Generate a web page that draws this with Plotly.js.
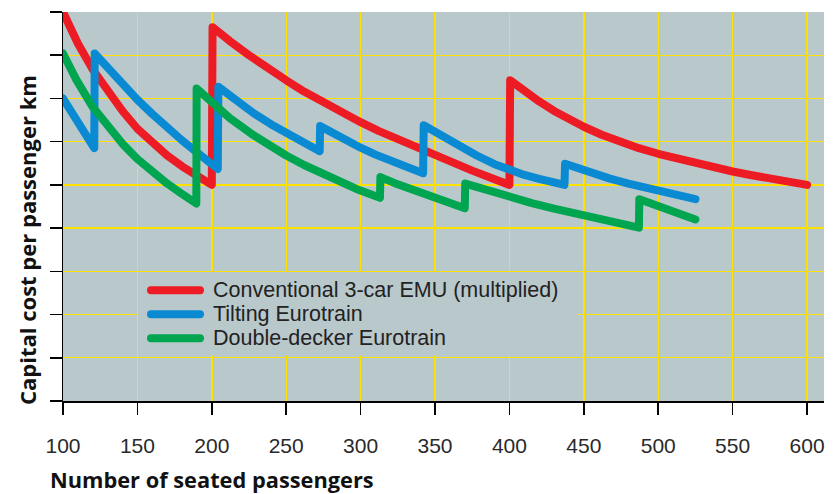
<!DOCTYPE html>
<html>
<head>
<meta charset="utf-8">
<script src="https://cdn.plot.ly/plotly-3.0.1.min.js"></script>
<style>
  html, body { margin: 0; padding: 0; background: #ffffff; }
  #chart { width: 839px; height: 494px; }
  .scatterlayer .js-line { stroke-linejoin: round; stroke-linecap: round; }
  .shapelayer path { stroke-linecap: round; }
</style>
</head>
<body>
<div id="chart"></div>
<script>
// ---- data ----
const seriesNames = ["Conventional 3-car EMU (multiplied)", "Tilting Eurotrain", "Double-decker Eurotrain"];
const seriesColors = ["#ED1C24", "#0A8AD2", "#00A550"];

const redX = [100, 110, 120, 130, 140, 150, 160, 170, 180, 190, 200,
              200.5, 206, 212, 225, 237, 250, 262, 275, 287, 300, 312, 325, 337, 350, 362, 375, 387, 400,
              400.5, 405, 412, 420, 430, 440, 450, 462, 475, 487, 500, 512, 525, 537, 550, 562, 575, 587, 600];
const redY = [9.0, 8.27, 7.67, 7.15, 6.71, 6.3, 5.97, 5.68, 5.43, 5.2, 5.0,
              8.65, 8.49, 8.33, 8.0, 7.7, 7.42, 7.16, 6.9, 6.67, 6.45, 6.25, 6.05, 5.87, 5.68, 5.51, 5.33, 5.17, 5.0,
              7.42, 7.30, 7.12, 6.93, 6.71, 6.515, 6.345, 6.16, 5.99, 5.85, 5.72, 5.61, 5.5, 5.405, 5.31, 5.23, 5.145, 5.07, 5.0];

const blueX = [100, 110, 121,
               121.3, 130, 140, 150, 160, 170, 180, 190, 204,
               204.4, 215, 228, 240, 250, 260, 272.5,
               272.8, 285, 300, 310, 320, 330, 342,
               342.4, 350, 362, 378, 390, 400, 410, 420, 437,
               437.4, 450, 467, 480, 500, 512, 525];
const blueY = [7.0, 6.44, 5.85,
               8.04, 7.7, 7.33, 6.97, 6.64, 6.32, 6.03, 5.75, 5.37,
               7.27, 6.98, 6.66, 6.4, 6.2, 6.0, 5.78,
               6.36, 6.12, 5.86, 5.7, 5.55, 5.41, 5.27,
               6.38, 6.22, 5.98, 5.68, 5.48, 5.34, 5.23, 5.14, 5.0,
               5.49, 5.33, 5.15, 5.03, 4.86, 4.76, 4.67];

const greenX = [100, 109, 120, 130, 140, 150, 160, 170, 180, 189.6,
                189.8, 200, 212, 228, 240, 250, 262, 275, 287, 299, 313,
                313.3, 323, 333, 342, 350, 360, 370,
                370.3, 385, 400, 415, 430, 445, 460, 475, 487,
                487.3, 505, 525];
const greenY = [8.04, 7.43, 6.8, 6.35, 5.95, 5.6, 5.3, 5.03, 4.79, 4.57,
                7.23, 6.9, 6.55, 6.15, 5.88, 5.68, 5.46, 5.24, 5.05, 4.88, 4.7,
                5.18, 5.04, 4.91, 4.8, 4.7, 4.58, 4.46,
                5.03, 4.87, 4.72, 4.58, 4.45, 4.335, 4.215, 4.1, 4.01,
                4.67, 4.45, 4.2];

const xTicks = [100, 150, 200, 250, 300, 350, 400, 450, 500, 550, 600];
const yTicks = [0, 1, 2, 3, 4, 5, 6, 7, 8, 9];
const xTitle = "Number of seated passengers";
const yTitle = "Capital cost per passenger km";

// ---- chart ----
const seriesX = [redX, blueX, greenX];
const seriesY = [redY, blueY, greenY];

const traces = seriesNames.map((name, i) => ({
  type: "scatter",
  mode: "lines",
  name: name,
  x: seriesX[i],
  y: seriesY[i],
  line: { color: seriesColors[i], width: 8 },
  showlegend: false,
  hoverinfo: "skip"
}));

const W = 839, H = 494;
const M = { l: 63, r: 15, t: 12, b: 93 };
const pw = W - M.l - M.r, ph = H - M.t - M.b;
const px = v => (v - M.l) / pw;          // pixel -> paper x
const py = v => (H - M.b - v) / ph;      // pixel -> paper y

const legendRowsPx = [290.3, 314.3, 338.3];
const textFont = "Liberation Sans, Arial, sans-serif";

const shapes = [
  { type: "rect", xref: "paper", yref: "paper", layer: "above",
    x0: px(138), x1: px(578), y0: py(355.6), y1: py(272),
    fillcolor: "#B9C8CB", line: { width: 0 } }
];
const annotations = [];
seriesNames.forEach((name, i) => {
  shapes.push({ type: "line", xref: "paper", yref: "paper", layer: "above",
    x0: px(151), x1: px(200), y0: py(legendRowsPx[i]), y1: py(legendRowsPx[i]),
    line: { color: seriesColors[i], width: 8 } });
  annotations.push({ xref: "paper", yref: "paper", x: px(211), y: py(legendRowsPx[i]),
    xanchor: "left", yanchor: "middle", showarrow: false, text: name,
    font: { family: textFont, size: 21.5, color: "#222222" } });
});
annotations.push({ xref: "paper", yref: "paper", x: px(48), y: py(480),
  xanchor: "left", yanchor: "middle", showarrow: false, text: xTitle,
  font: { family: "Open Sans", size: 21.8, color: "#111111", weight: 700 } });
annotations.push({ xref: "paper", yref: "paper", x: px(27), y: py(240),
  xanchor: "center", yanchor: "middle", showarrow: false, text: yTitle, textangle: -90,
  font: { family: "Open Sans", size: 22, color: "#111111", weight: 700 } });

const layout = {
  width: W, height: H,
  margin: M,
  paper_bgcolor: "#ffffff",
  plot_bgcolor: "#B9C8CB",
  showlegend: false,
  xaxis: {
    range: [100, 611.4],
    tickvals: xTicks,
    ticktext: xTicks.map(String),
    ticks: "outside", ticklen: 12, tickwidth: 1.5, tickcolor: "#000000",
    showline: true, linecolor: "#000000", linewidth: 1.5,
    showgrid: true, gridcolor: "#FFE100", gridwidth: 1.4,
    zeroline: false,
    ticklabelstandoff: 13,
    tickfont: { family: textFont, size: 21, color: "#2a2a2a" }
  },
  yaxis: {
    range: [0, 9],
    tickvals: yTicks,
    showticklabels: false,
    ticks: "outside", ticklen: 12, tickwidth: 1.5, tickcolor: "#000000",
    showline: true, linecolor: "#000000", linewidth: 1.5,
    showgrid: true, gridcolor: "#FFE100", gridwidth: 1.4,
    zeroline: false
  },
  shapes: shapes,
  annotations: annotations
};

Plotly.newPlot("chart", traces, layout, { staticPlot: true, displayModeBar: false });
</script>
</body>
</html>
